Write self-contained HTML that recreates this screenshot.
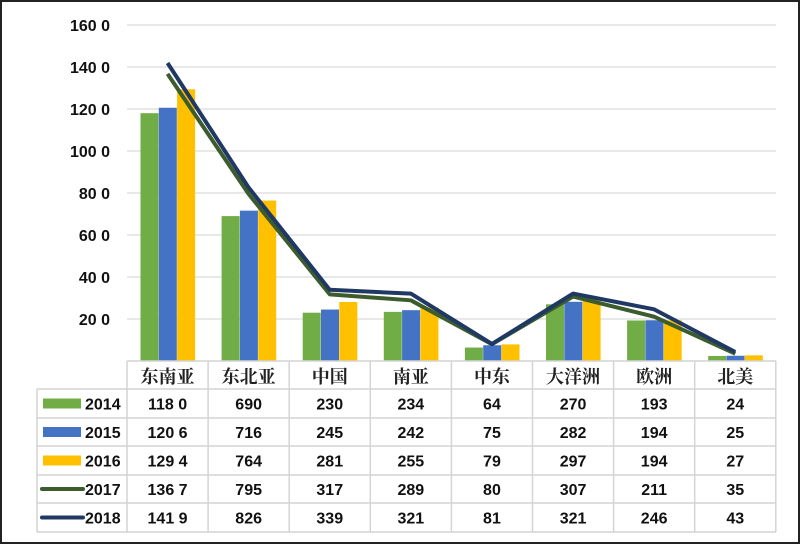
<!DOCTYPE html>
<html><head><meta charset="utf-8"><style>
html,body{margin:0;padding:0;background:#fff}
body{width:800px;height:544px;overflow:hidden}
</style></head><body>
<svg width="800" height="544" xmlns="http://www.w3.org/2000/svg" font-family="Liberation Sans, Noto Sans CJK SC, sans-serif">
<rect x="1" y="1" width="798" height="542" fill="#fff" stroke="#222" stroke-width="2"/>
<g stroke="#d9d9d9" stroke-width="1.2">
<line x1="127" x2="776" y1="25" y2="25"/><line x1="127" x2="776" y1="67" y2="67"/>
<line x1="127" x2="776" y1="109" y2="109"/><line x1="127" x2="776" y1="151" y2="151"/>
<line x1="127" x2="776" y1="193" y2="193"/><line x1="127" x2="776" y1="235" y2="235"/>
<line x1="127" x2="776" y1="277" y2="277"/><line x1="127" x2="776" y1="319" y2="319"/>
</g>
<g font-size="16" font-weight="bold" fill="#111" text-anchor="end">
<text x="110" y="31">160 0</text><text x="110" y="73">140 0</text><text x="110" y="115">120 0</text>
<text x="110" y="157">100 0</text><text x="110" y="199">80 0</text><text x="110" y="241">60 0</text>
<text x="110" y="283">40 0</text><text x="110" y="325">20 0</text>
</g>
<g id="bars"></g>
<g fill="none" stroke-linejoin="round">
<polyline id="l17" stroke="#3d5c2e" stroke-width="4"/>
<polyline id="l18" stroke="#1f3864" stroke-width="4"/>
</g>
<g stroke="#d4d4d4" stroke-width="1.5" fill="none" id="grid"></g>
<g id="txt"></g>
</svg>
<script>
var cats=["东南亚","东北亚","中国","南亚","中东","大洋洲","欧洲","北美"];
var d=[[1180,690,230,234,64,270,193,24],[1206,716,245,242,75,282,194,25],[1294,764,281,255,79,297,194,27],[1367,795,317,289,80,307,211,35],[1419,826,339,321,81,321,246,43]];
var lab=[["118 0","690","230","234","64","270","193","24"],["120 6","716","245","242","75","282","194","25"],["129 4","764","281","255","79","297","194","27"],["136 7","795","317","289","80","307","211","35"],["141 9","826","339","321","81","321","246","43"]];
var yrs=["2014","2015","2016","2017","2018"],col=["#70ad47","#4472c4","#ffc000","#3d5c2e","#1f3864"];
var x0=127,w=81.1,ns="http://www.w3.org/2000/svg";
function Y(v){return 361-v*0.21}
function el(p,t,a,txt){var e=document.createElementNS(ns,t);for(var k in a)e.setAttribute(k,a[k]);if(txt)e.textContent=txt;document.getElementById(p).appendChild(e);return e}
for(var i=0;i<8;i++){for(var s=0;s<3;s++){var x=x0+i*w+13.5+s*18.3;el("bars","rect",{x:x,y:Y(d[s][i]),width:18,height:361-Y(d[s][i]),fill:col[s]});}}
[3,4].forEach(function(s){var p=[];for(var i=0;i<8;i++)p.push((x0+i*w+w/2)+","+Y(d[s][i]));document.getElementById(s==3?"l17":"l18").setAttribute("points",p.join(" "));});
var rows=[361,389,418,446,475,503,532];
el("grid","line",{x1:x0,x2:776,y1:361,y2:361});
for(var r=1;r<7;r++)el("grid","line",{x1:37,x2:776,y1:rows[r],y2:rows[r]});
for(var i=0;i<=8;i++)el("grid","line",{x1:x0+i*w,x2:x0+i*w,y1:361,y2:532});
el("grid","line",{x1:37,x2:37,y1:389,y2:532});
for(var i=0;i<8;i++){var cx=x0+i*w+w/2;
el("txt","text",{x:cx,y:383,"text-anchor":"middle","font-size":"18","font-weight":"bold","font-family":"Noto Serif CJK SC, serif",fill:"#222"},cats[i]);
for(var s=0;s<5;s++)el("txt","text",{x:cx,y:(rows[s+1]+rows[s+2])/2+6,"text-anchor":"middle","font-size":"16","font-weight":"bold",fill:"#111"},lab[s][i]);}
for(var s=0;s<5;s++){var cy=(rows[s+1]+rows[s+2])/2;
if(s<3)el("txt","rect",{x:43,y:cy-5,width:38,height:10,fill:col[s]});else el("txt","line",{x1:42,x2:83,y1:cy,y2:cy,stroke:col[s],"stroke-width":4,"stroke-linecap":"round"});
el("txt","text",{x:85,y:cy+6,"font-size":"16","font-weight":"bold",fill:"#111"},yrs[s]);}
</script>
</body></html>
